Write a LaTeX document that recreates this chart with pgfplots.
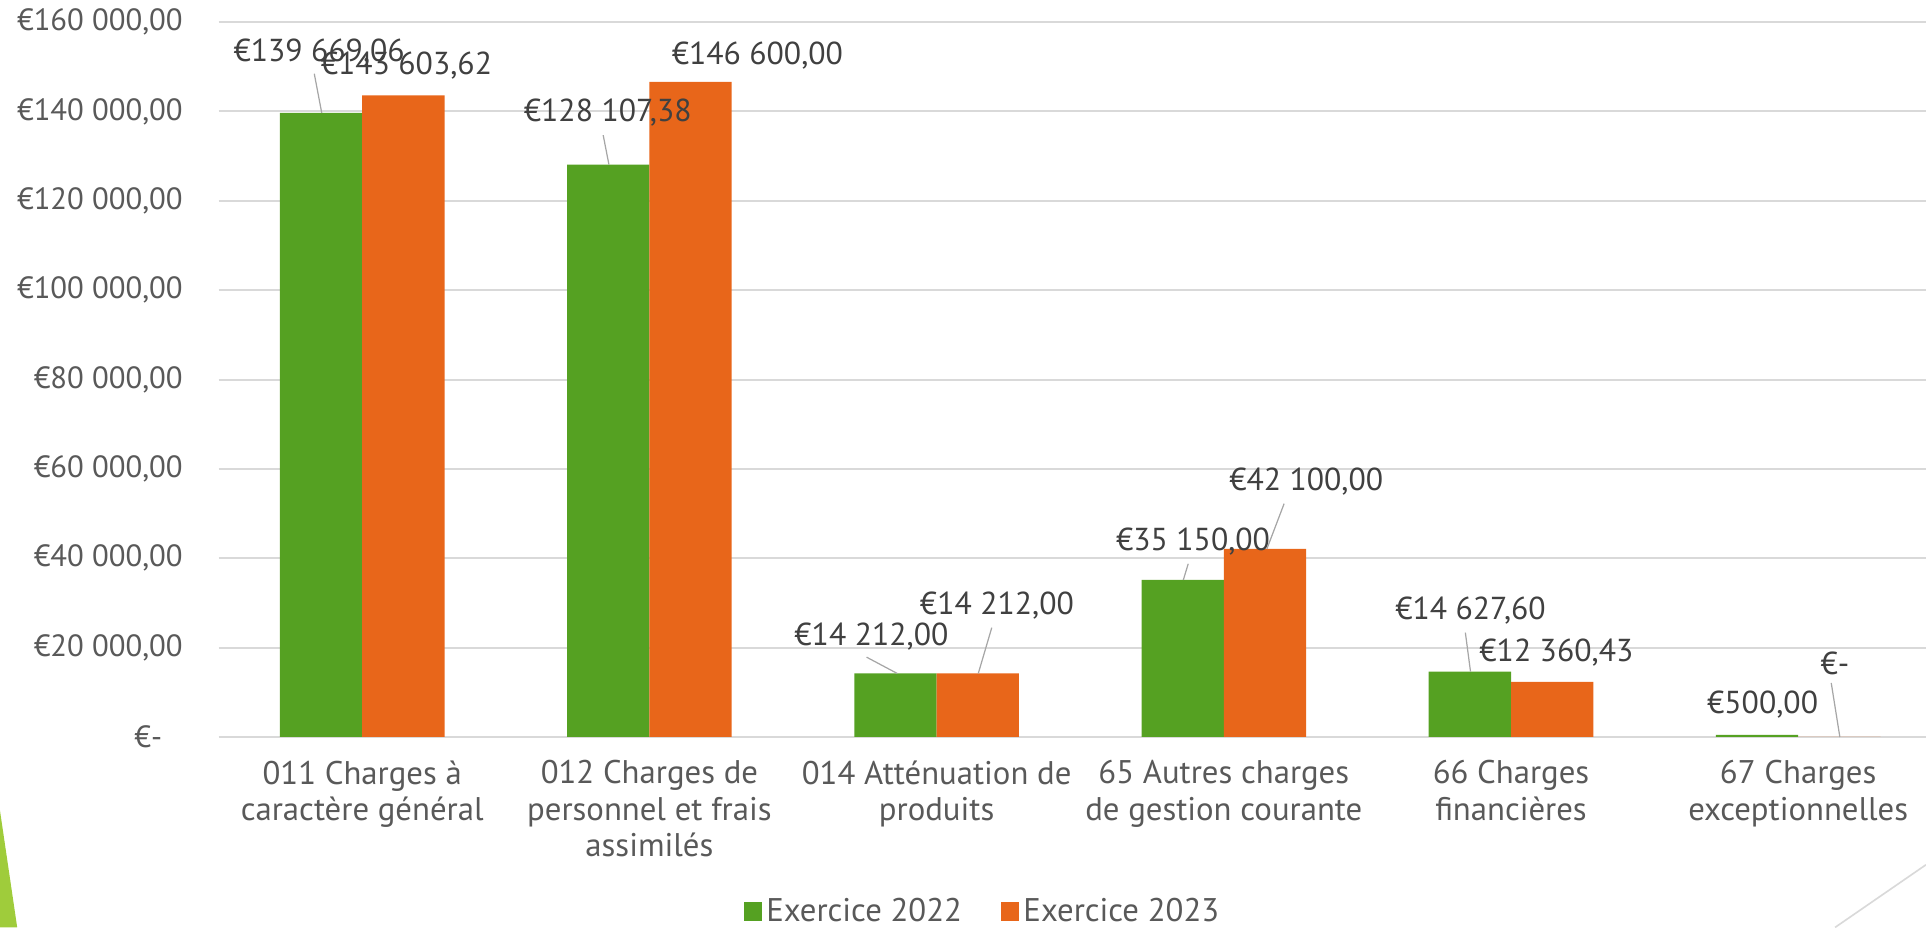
\documentclass[border=0pt]{standalone}
\usepackage{pgfplots}
\pgfplotsset{compat=1.18}
\usepackage{fontspec}
\setmainfont{PT Sans}
\definecolor{vert}{HTML}{55A122}
\definecolor{orangeX}{HTML}{E8661A}
\definecolor{grille}{HTML}{D9D9D9}
\definecolor{texte}{HTML}{595959}
\definecolor{etiq}{HTML}{404040}
\definecolor{guide}{HTML}{A6A6A6}
\definecolor{deco}{HTML}{9FCC3B}
\tikzset{lab/.style={font=\fontsize{15.5}{17.7}\selectfont, text=etiq, inner sep=0pt},
  lead/.style={guide, line width=0.6pt}}
\begin{document}
\begin{tikzpicture}
\useasboundingbox (0pt,0pt) rectangle (940.8pt,453pt);
\fill[deco] (0pt,0pt) -- (8.4pt,0pt) -- (0pt,57pt) -- cycle;
\draw[grille, line width=0.8pt] (896.4pt,0pt) -- (940.8pt,30.6pt);
\begin{axis}[
  at={(106.8pt,93pt)}, anchor=south west,
  scale only axis, width=834pt, height=349.2pt,
  xmin=-0.5, xmax=5.445, ymin=0, ymax=160000,
  ybar=0pt, bar width=40.2pt,
  axis line style={draw=none},
  major tick length=0pt,
  ymajorgrids, grid style={grille, line width=1pt},
  scaled y ticks=false,
  clip=false,
  ytick={0,20000,40000,60000,80000,100000,120000,140000,160000},
  yticklabels={{€-\kern10pt},{€20 000,00},{€40 000,00},{€60 000,00},{€80 000,00},{€100 000,00},{€120 000,00},{€140 000,00},{€160 000,00}},
  yticklabel style={font=\fontsize{15}{17.7}\selectfont, text=texte, xshift=-14pt},
  xtick={0,1,2,3,4,5},
  xticklabels={{011 Charges à\\caractère général},{012 Charges de\\personnel et frais\\assimilés},{014 Atténuation de\\produits},{65 Autres charges\\de gestion courante},{66 Charges\\financières},{67 Charges\\exceptionnelles}},
  xticklabel style={font=\fontsize{16}{17.7}\selectfont, text=texte, align=center, yshift=-8pt},
  legend columns=2,
  legend style={draw=none, fill=none, font=\fontsize{16}{17.7}\selectfont, text=texte,
    at={(0.448,-0.244)}, anchor=center,
    /tikz/every even column/.append style={column sep=17pt}},
  legend image code/.code={\fill[#1] (0pt,-4.5pt) rectangle (9pt,4.5pt);},
]
\addplot[fill=vert, draw=none] coordinates {(0,139669.06) (1,128107.38) (2,14212) (3,35150) (4,14627.60) (5,500)};
\addplot[fill=orangeX, draw=none] coordinates {(0,143603.62) (1,146600) (2,14212) (3,42100) (4,12360.43) (5,0)};
\legend{Exercice 2022, Exercice 2023}

\node[lab] at (axis cs:-0.15,153120) {€139 669,06};
\draw[lead] (axis cs:-0.167,148450) -- (axis cs:-0.141,139669);
\node[lab] at (axis cs:0.154,150370) {€143 603,62};
\node[lab] at (axis cs:0.855,139790) {€128 107,38};
\draw[lead] (axis cs:0.839,134700) -- (axis cs:0.859,128107);
\node[lab] at (axis cs:1.376,152570) {€146 600,00};
\node[lab] at (axis cs:1.773,22540) {€14 212,00};
\draw[lead] (axis cs:1.756,17870) -- (axis cs:1.863,14212);
\node[lab] at (axis cs:2.21,29410) {€14 212,00};
\draw[lead] (axis cs:2.192,24470) -- (axis cs:2.145,14212);
\node[lab] at (axis cs:2.893,43710) {€35 150,00};
\draw[lead] (axis cs:2.876,38760) -- (axis cs:2.859,35150);
\node[lab] at (axis cs:3.287,57180) {€42 100,00};
\draw[lead] (axis cs:3.21,52230) -- (axis cs:3.15,42100);
\node[lab] at (axis cs:3.859,28315) {€14 627,60};
\draw[lead] (axis cs:3.841,23370) -- (axis cs:3.859,14627.6);
\node[lab] at (axis cs:4.158,18970) {€12 360,43};
\node[lab] at (axis cs:4.876,7150) {€500,00};
\node[lab] at (axis cs:5.128,16490) {€-};
\draw[lead] (axis cs:5.115,12100) -- (axis cs:5.145,0);
\end{axis}
\end{tikzpicture}
\end{document}
